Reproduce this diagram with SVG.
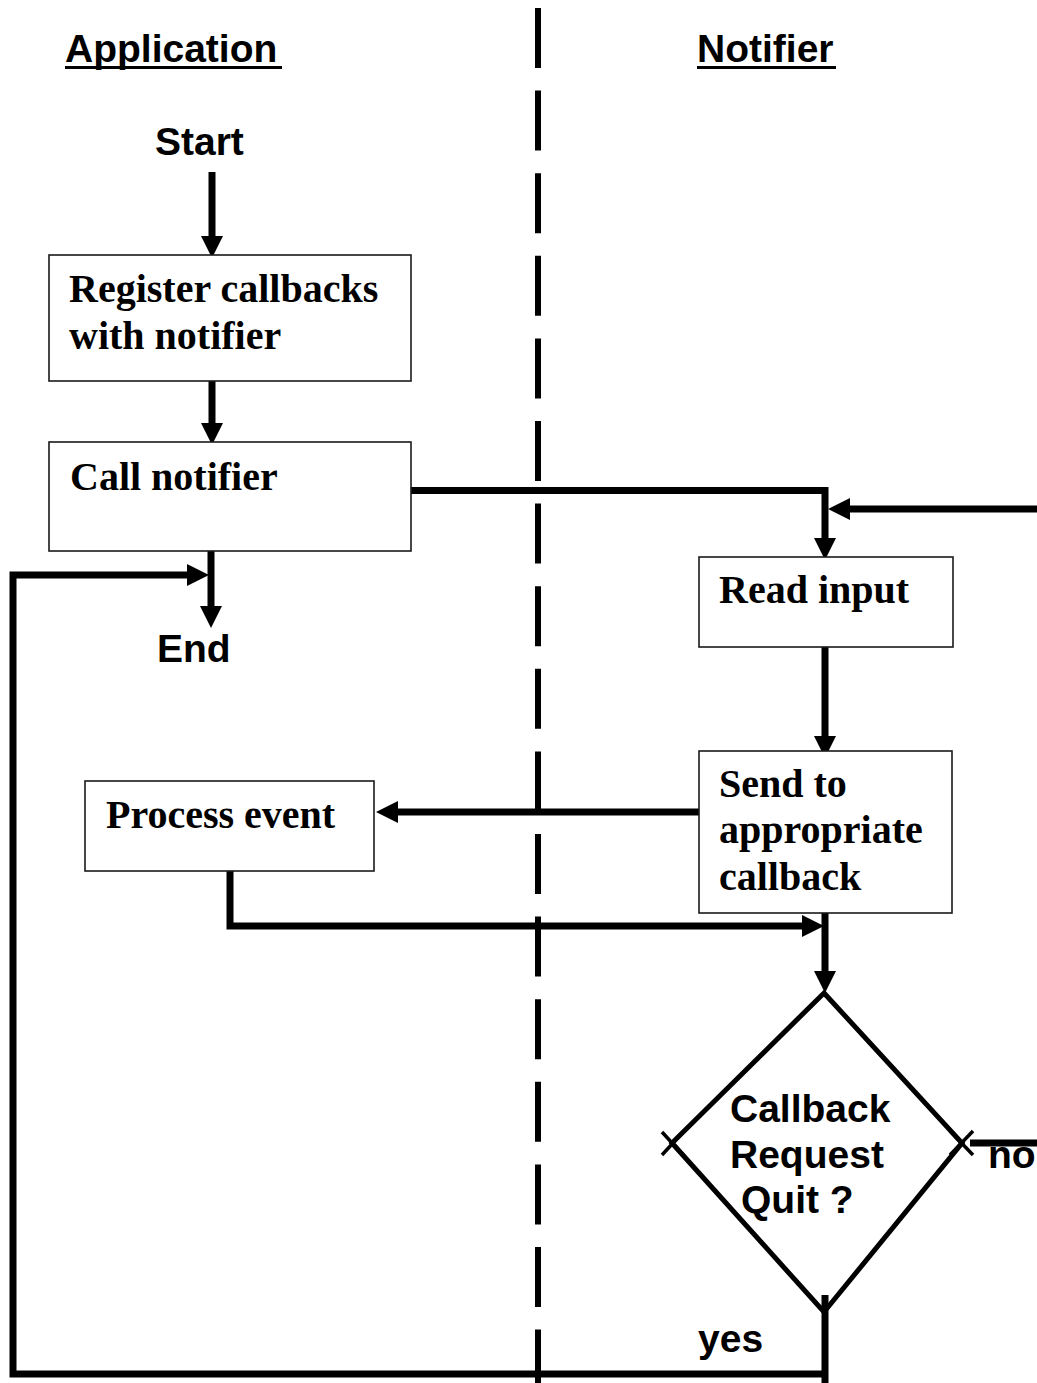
<svg xmlns="http://www.w3.org/2000/svg" width="1037" height="1383" viewBox="0 0 1037 1383">
  <style>
    .box { fill: #ffffff; stroke: #1a1a1a; stroke-width: 1.6; }
    .serif { font-family: "Liberation Serif", "Times New Roman", serif; font-weight: bold; font-size: 40px; fill: #000; }
    .sans { font-family: "Liberation Sans", Arial, sans-serif; font-weight: bold; font-size: 39px; fill: #000; }
    .wire { fill: none; stroke: #000; stroke-width: 7; stroke-linejoin: miter; }
    .tick { fill: none; stroke: #000; stroke-width: 3.5; }
  </style>
  <defs>
    <marker id="head" viewBox="0 0 22 22" refX="1" refY="11" markerWidth="22" markerHeight="22" markerUnits="userSpaceOnUse" orient="auto">
      <path d="M0,0 L22,11 L0,22 z" fill="#000"/>
    </marker>
  </defs>

  <rect width="1037" height="1383" fill="#ffffff"/>

  <!-- swimlane divider -->
  <line x1="538" y1="8" x2="538" y2="1383" stroke="#000" stroke-width="6" stroke-dasharray="60 22.6"/>

  <!-- lane headings -->
  <g id="heading-application">
    <text class="sans" x="65" y="62">Application</text>
    <line x1="65" y1="67.5" x2="282" y2="67.5" stroke="#000" stroke-width="3"/>
  </g>
  <g id="heading-notifier">
    <text class="sans" x="697" y="62">Notifier</text>
    <line x1="697" y1="67.5" x2="836" y2="67.5" stroke="#000" stroke-width="3"/>
  </g>

  <!-- connectors -->
  <g id="connectors">
    <line class="wire" x1="212" y1="172" x2="212" y2="237" marker-end="url(#head)"/>
    <line class="wire" x1="212" y1="364" x2="212" y2="424" marker-end="url(#head)"/>
    <line class="wire" x1="211" y1="539" x2="211" y2="607" marker-end="url(#head)"/>
    <path class="wire" d="M411,490.5 H825 V539" marker-end="url(#head)"/>
    <line class="wire" x1="1037" y1="509" x2="849" y2="509" marker-end="url(#head)"/>
    <line class="wire" x1="825" y1="637" x2="825" y2="737" marker-end="url(#head)"/>
    <line class="wire" x1="699" y1="812" x2="397" y2="812" marker-end="url(#head)"/>
    <path class="wire" d="M230,860 V926 H803" marker-end="url(#head)"/>
    <line class="wire" x1="825" y1="897" x2="825" y2="972" marker-end="url(#head)"/>
    <line class="wire" x1="970" y1="1143" x2="1037" y2="1143"/>
    <line class="wire" x1="825" y1="1295" x2="825" y2="1383"/>
    <path class="wire" d="M825,1374 H13 V575 H188" marker-end="url(#head)"/>
  </g>

  <!-- terminals -->
  <g id="start">
    <text class="sans" x="155" y="155">Start</text>
  </g>
  <g id="end">
    <text class="sans" x="157" y="662">End</text>
  </g>

  <!-- process boxes -->
  <g id="register">
    <rect class="box" x="49" y="255" width="362" height="126"/>
    <text class="serif" x="69" y="302">Register callbacks</text>
    <text class="serif" x="69" y="349">with notifier</text>
  </g>
  <g id="call-notifier">
    <rect class="box" x="49" y="442" width="362" height="109"/>
    <text class="serif" x="70" y="490">Call notifier</text>
  </g>
  <g id="read-input">
    <rect class="box" x="699" y="557" width="254" height="90"/>
    <text class="serif" x="719" y="603">Read input</text>
  </g>
  <g id="send-callback">
    <rect class="box" x="699" y="751" width="253" height="162"/>
    <text class="serif" x="719" y="797">Send to</text>
    <text class="serif" x="719" y="843">appropriate</text>
    <text class="serif" x="719" y="890">callback</text>
  </g>
  <g id="process-event">
    <rect class="box" x="85" y="781" width="289" height="90"/>
    <text class="serif" x="106" y="828">Process event</text>
  </g>

  <!-- decision -->
  <g id="quit-decision">
    <polygon points="824,993 962,1143 824,1312 672,1143" fill="none" stroke="#000" stroke-width="5" stroke-linejoin="miter"/>
    <line class="tick" x1="662" y1="1132" x2="684" y2="1156"/>
    <line class="tick" x1="662" y1="1155" x2="684" y2="1131"/>
    <line class="tick" x1="950" y1="1131" x2="973" y2="1155"/>
    <line class="tick" x1="950" y1="1155" x2="973" y2="1131"/>
    <text class="sans" x="730" y="1122">Callback</text>
    <text class="sans" x="730" y="1168">Request</text>
    <text class="sans" x="741" y="1213">Quit ?</text>
  </g>

  <!-- branch labels -->
  <g id="label-no">
    <text class="sans" x="988" y="1168">no</text>
  </g>
  <g id="label-yes">
    <text class="sans" x="698" y="1352">yes</text>
  </g>
</svg>
